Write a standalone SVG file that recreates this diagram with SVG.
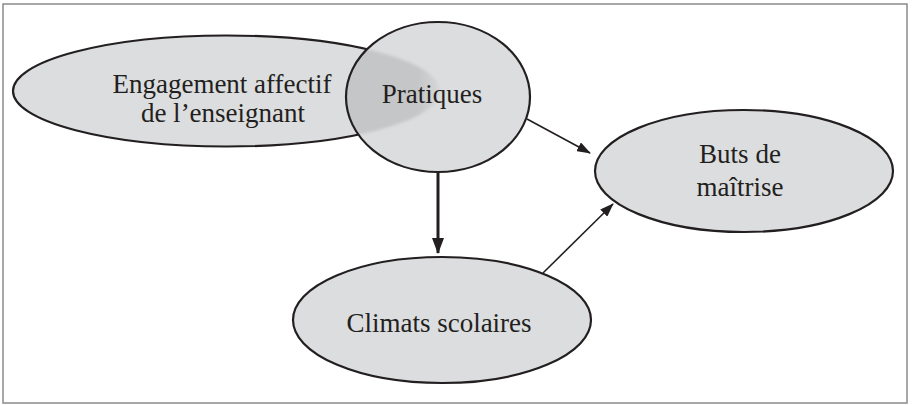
<svg xmlns="http://www.w3.org/2000/svg" width="912" height="405" viewBox="0 0 912 405">
<style>
.node{fill:#dcdddf;stroke:#231f20;stroke-width:2.2}
.lbl{font-family:"Liberation Serif",serif;font-size:27px;fill:#231f20;text-anchor:middle}
.edge{stroke:#231f20;fill:none}
</style>
<defs>
<marker id="ah" viewBox="0 0 14 10" refX="13" refY="5" markerWidth="14" markerHeight="10" markerUnits="userSpaceOnUse" orient="auto">
<path d="M0,0 L14,5 L0,10 Z" fill="#231f20"/>
</marker>
<marker id="ahb" viewBox="0 0 16 12" refX="15" refY="6" markerWidth="16" markerHeight="12" markerUnits="userSpaceOnUse" orient="auto">
<path d="M0,0 L16,6 L0,12 Z" fill="#231f20"/>
</marker>
<linearGradient id="ov" x1="347" y1="0" x2="442" y2="0" gradientUnits="userSpaceOnUse">
<stop offset="0" stop-color="#c5c6c8" stop-opacity="1"/>
<stop offset="0.75" stop-color="#c5c6c8" stop-opacity="1"/>
<stop offset="1" stop-color="#c5c6c8" stop-opacity="0.2"/>
</linearGradient>
<filter id="soft" x="-10%" y="-10%" width="120%" height="120%"><feGaussianBlur stdDeviation="1.5"/></filter>
<clipPath id="pclip"><ellipse cx="438" cy="97" rx="92" ry="75"/></clipPath>
</defs>
<rect x="3" y="4" width="904" height="399" fill="#ffffff" stroke="#8a8a8a" stroke-width="1.5"/>
<g id="connectors">
<line class="edge" x1="438" y1="172" x2="438" y2="253" stroke-width="3" marker-end="url(#ahb)"/>
<line class="edge" x1="527" y1="119" x2="590" y2="153" stroke-width="1.6" marker-end="url(#ah)"/>
<line class="edge" x1="543" y1="273" x2="613" y2="204" stroke-width="1.6" marker-end="url(#ah)"/>
</g>
<g id="node-engagement">
<ellipse class="node" cx="226.5" cy="91" rx="213.5" ry="55.5"/>
<text class="lbl" x="222" y="93">Engagement affectif</text>
<text class="lbl" x="223" y="122">de l’enseignant</text>
</g>
<g id="node-pratiques">
<ellipse cx="438" cy="97" rx="92" ry="75" fill="#dcdddf"/>
<g clip-path="url(#pclip)"><ellipse cx="226.5" cy="91" rx="213.5" ry="55.5" fill="url(#ov)" filter="url(#soft)"/></g>
<ellipse cx="438" cy="97" rx="92" ry="75" fill="none" stroke="#231f20" stroke-width="2.2"/>
<text class="lbl" x="432" y="103">Pratiques</text>
</g>
<g id="node-buts">
<ellipse class="node" cx="744" cy="171" rx="149" ry="61"/>
<text class="lbl" x="740" y="163">Buts de</text>
<text class="lbl" x="740" y="196">maîtrise</text>
</g>
<g id="node-climats">
<ellipse class="node" cx="442" cy="320" rx="149" ry="63"/>
<text class="lbl" x="439" y="332">Climats scolaires</text>
</g>
</svg>
